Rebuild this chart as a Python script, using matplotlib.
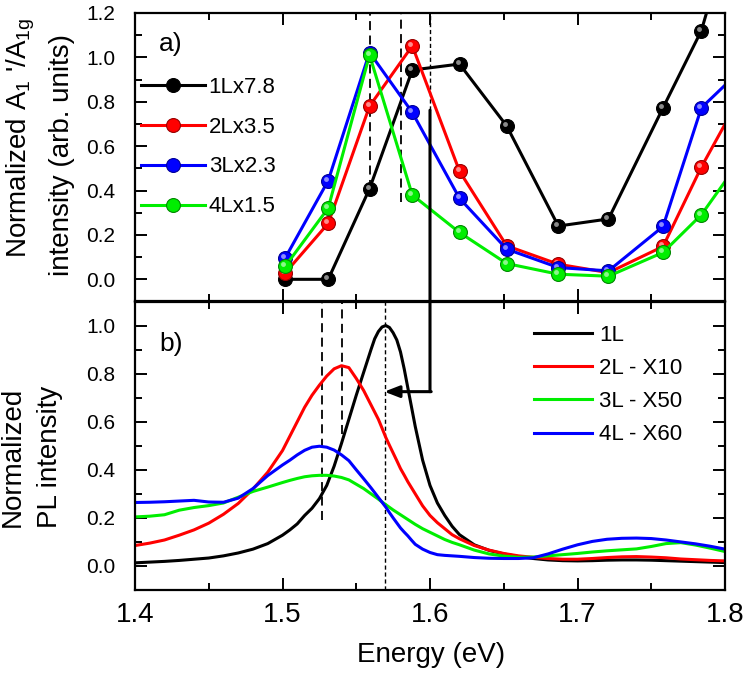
import matplotlib
matplotlib.use("Agg")
import matplotlib.pyplot as plt
from matplotlib.patches import ConnectionPatch
from matplotlib.transforms import offset_copy
from matplotlib.ticker import MultipleLocator, FormatStrFormatter

plt.rcParams['font.family'] = ['Liberation Sans', 'DejaVu Sans']
plt.rcParams['mathtext.fontset'] = 'custom'
plt.rcParams['mathtext.rm'] = 'Liberation Sans'
plt.rcParams['mathtext.it'] = 'Liberation Sans:italic'

# ---------------- data: panel a (Raman intensity ratio) ----------------
raman_energy = [1.502, 1.531, 1.559, 1.588, 1.620, 1.652, 1.687, 1.721, 1.758, 1.784, 1.815]
raman_1L = [0.000, 0.000, 0.408, 0.943, 0.970, 0.691, 0.240, 0.272, 0.773, 1.121, 1.83]
raman_2L = [0.030, 0.252, 0.780, 1.052, 0.487, 0.151, 0.068, 0.030, 0.148, 0.506, 0.88]
raman_3L = [0.098, 0.445, 1.022, 0.752, 0.365, 0.136, 0.053, 0.038, 0.238, 0.773, 0.97]
raman_4L = [0.060, 0.321, 1.011, 0.380, 0.211, 0.071, 0.023, 0.014, 0.121, 0.291, 0.58]
raman_labels = ['1Lx7.8', '2Lx3.5', '3Lx2.3', '4Lx1.5']

# ---------------- data: panel b (PL spectra) ----------------
pl_energy = [1.40, 1.41, 1.42, 1.43, 1.44, 1.45, 1.46, 1.47, 1.48, 1.49,
             1.50, 1.505, 1.51, 1.515, 1.52, 1.525, 1.53, 1.535, 1.54, 1.545,
             1.55, 1.555, 1.56, 1.5625, 1.565, 1.5675, 1.57, 1.5725, 1.575, 1.5775,
             1.58, 1.5825, 1.585, 1.5875, 1.59, 1.595,
             1.60, 1.605, 1.61, 1.615, 1.62, 1.63, 1.64, 1.65, 1.66, 1.67,
             1.68, 1.69, 1.70, 1.71, 1.72, 1.73, 1.74, 1.75, 1.76, 1.77,
             1.78, 1.79, 1.80]
pl_1L = [0.013, 0.016, 0.019, 0.023, 0.028, 0.033, 0.042, 0.054, 0.070, 0.093,
         0.128, 0.150, 0.175, 0.210, 0.240, 0.280, 0.335, 0.415, 0.510, 0.610,
         0.710, 0.805, 0.900, 0.945, 0.975, 0.994, 1.000, 0.992, 0.970, 0.940,
         0.890, 0.820, 0.740, 0.660, 0.580, 0.440,
         0.335, 0.262, 0.210, 0.165, 0.130, 0.088, 0.065, 0.050, 0.039, 0.031,
         0.025, 0.022, 0.021, 0.022, 0.024, 0.025, 0.025, 0.024, 0.022, 0.020,
         0.018, 0.016, 0.014]
pl_2L = [0.085, 0.095, 0.108, 0.128, 0.150, 0.178, 0.215, 0.260, 0.320, 0.390,
         0.480, 0.540, 0.600, 0.660, 0.710, 0.752, 0.790, 0.820, 0.833, 0.825,
         0.780, 0.730, 0.670, 0.640, 0.610, 0.573, 0.535, 0.502, 0.470, 0.438,
         0.405, 0.378, 0.350, 0.325, 0.300, 0.250,
         0.210, 0.180, 0.155, 0.130, 0.113, 0.085, 0.066, 0.052, 0.042, 0.036,
         0.031, 0.028, 0.028, 0.031, 0.035, 0.038, 0.039, 0.037, 0.034, 0.029,
         0.026, 0.023, 0.021]
pl_3L = [0.204, 0.207, 0.213, 0.232, 0.243, 0.251, 0.262, 0.286, 0.310, 0.328,
         0.347, 0.356, 0.364, 0.371, 0.375, 0.377, 0.377, 0.374, 0.368, 0.358,
         0.340, 0.322, 0.300, 0.289, 0.278, 0.266, 0.255, 0.244, 0.233, 0.223,
         0.213, 0.203, 0.193, 0.183, 0.173, 0.155,
         0.140, 0.125, 0.110, 0.098, 0.088, 0.066, 0.050, 0.041, 0.036, 0.037,
         0.042, 0.047, 0.052, 0.058, 0.063, 0.067, 0.071, 0.081, 0.093, 0.097,
         0.087, 0.074, 0.060]
pl_4L = [0.264, 0.265, 0.267, 0.270, 0.273, 0.266, 0.265, 0.282, 0.322, 0.376,
         0.420, 0.440, 0.462, 0.481, 0.494, 0.498, 0.494, 0.482, 0.462, 0.438,
         0.400, 0.363, 0.325, 0.305, 0.285, 0.265, 0.245, 0.222, 0.200, 0.179,
         0.158, 0.141, 0.125, 0.107, 0.090, 0.070,
         0.056, 0.047, 0.044, 0.042, 0.040, 0.035, 0.032, 0.031, 0.031, 0.034,
         0.050, 0.070, 0.088, 0.102, 0.111, 0.115, 0.116, 0.114, 0.108, 0.100,
         0.092, 0.082, 0.070]
pl_labels = ['1L', '2L - X10', '3L - X50', '4L - X60']

raman_colors = ['#000000', '#ff0000', '#0000ff', '#00ee00']
raman_edges = ['#000000', '#990000', '#000099', '#008800']
pl_colors = ['#000000', '#ff0000', '#00ee00', '#0000ff']

# guide lines (energy, ymin, ymax)
guides_a_long = [(1.559, 0.408, 1.2), (1.580, 0.347, 1.2)]
guide_a_short = (1.600, 0.762, 1.2)
guides_b_long = [(1.5266, 0.19, 1.1), (1.5406, 0.55, 1.1)]
guide_b_short = (1.5695, -0.1, 1.1)
arrow_x_from, arrow_x_to, arrow_y = 1.600, 1.569, 0.725

# ---------------- figure ----------------
fig = plt.figure(figsize=(7.47, 6.76), dpi=100)
W, H = 747.0, 676.0
axL, axR = 135 / W, 725 / W
ax_a = fig.add_axes([axL, 1 - 301.5 / H, axR - axL, 288.5 / H])
ax_b = fig.add_axes([axL, 1 - 590 / H, axR - axL, 288.5 / H])

for ax in (ax_a, ax_b):
    ax.set_xlim(1.4, 1.8)
    ax.xaxis.set_major_locator(MultipleLocator(0.1))
    ax.xaxis.set_minor_locator(MultipleLocator(0.05))
    ax.yaxis.set_major_locator(MultipleLocator(0.2))
    ax.yaxis.set_minor_locator(MultipleLocator(0.1))
    ax.tick_params(which='both', direction='in', top=True, right=True, width=1.4)
    ax.tick_params(which='major', length=8.5)
    ax.tick_params(which='minor', length=5)
    ax.tick_params(axis='y', labelsize=15, pad=14)
    ax.tick_params(axis='x', labelsize=20, pad=9)
    ax.yaxis.set_major_formatter(FormatStrFormatter('%.1f'))
    ax.xaxis.set_major_formatter(FormatStrFormatter('%.1f'))
    for s in ax.spines.values():
        s.set_linewidth(1.6)

ax_a.set_ylim(-0.1, 1.2)
ax_b.set_ylim(-0.1, 1.1)
ax_a.tick_params(axis='x', labelbottom=False)

# panel a
hl = offset_copy(ax_a.transData, fig=fig, x=-2.0, y=2.0, units='dots')
for ys, c, ec, lab in zip([raman_1L, raman_2L, raman_3L, raman_4L], raman_colors,
                          raman_edges, raman_labels):
    ax_a.plot(raman_energy, ys, '-', color=c, lw=2.2, marker='o', ms=10,
              mfc=c, mec=ec, mew=0.8, label=lab)
    ax_a.plot(raman_energy, ys, 'o', ms=3.5, mfc='white', mec='none', alpha=0.55,
              transform=hl)

for x, y0, y1 in guides_a_long:
    ax_a.plot([x, x], [y0, y1], color='black', lw=1.3, ls=(0, (5, 3)), zorder=1)
ax_a.plot([guide_a_short[0]] * 2, guide_a_short[1:], color='black', lw=1.0,
          ls=(0, (3, 2)), zorder=1)

ax_a.legend(loc='upper left', bbox_to_anchor=(-0.005, 0.81), frameon=False,
            fontsize=16, handlelength=2.9, handletextpad=0.15,
            labelspacing=0.85, borderaxespad=0)
ax_a.text(0.04, 0.935, 'a)', transform=ax_a.transAxes, fontsize=19, va='top')

# panel b
for ys, c, lab in zip([pl_1L, pl_2L, pl_3L, pl_4L], pl_colors, pl_labels):
    ax_b.plot(pl_energy, ys, '-', color=c, lw=2.2, label=lab)

for x, y0, y1 in guides_b_long:
    ax_b.plot([x, x], [y0, y1], color='black', lw=1.3, ls=(0, (5, 3)), zorder=1)
ax_b.plot([guide_b_short[0]] * 2, guide_b_short[1:], color='black', lw=1.0,
          ls=(0, (3, 2)), zorder=1)

# arrow from panel a to panel b
con = ConnectionPatch(xyA=(arrow_x_from, guide_a_short[1]), coordsA=ax_a.transData,
                      xyB=(arrow_x_from, arrow_y), coordsB=ax_b.transData,
                      color='black', lw=2.2)
fig.add_artist(con)
ax_b.annotate('', xy=(arrow_x_to, arrow_y), xytext=(arrow_x_from + 0.0008, arrow_y),
              arrowprops=dict(arrowstyle='-|>,head_length=0.9,head_width=0.35',
                              color='black', lw=2.2, shrinkA=0, shrinkB=0))

ax_b.legend(loc='upper left', bbox_to_anchor=(0.662, 0.95), frameon=False,
            fontsize=16, handlelength=2.6, handletextpad=0.3,
            labelspacing=0.55, borderaxespad=0)
ax_b.text(0.042, 0.895, 'b)', transform=ax_b.transAxes, fontsize=19, va='top')

# axis labels
fig.text(21 / W, 1 - 138 / H, "Normalized A$_1$ '/A$_{\\mathrm{1g}}$", rotation=90,
         ha='center', va='center', fontsize=20)
fig.text(62 / W, 1 - 155 / H, 'intensity (arb. units)', rotation=90,
         ha='center', va='center', fontsize=20)
fig.text(13 / W, 1 - 457 / H, 'Normalized', rotation=90,
         ha='center', va='center', fontsize=20)
fig.text(50 / W, 1 - 457 / H, 'PL intensity', rotation=90,
         ha='center', va='center', fontsize=20)
fig.text(431 / W, 1 - 655 / H, 'Energy (eV)', ha='center', va='center', fontsize=20)

fig.savefig('out.png', dpi=100)
